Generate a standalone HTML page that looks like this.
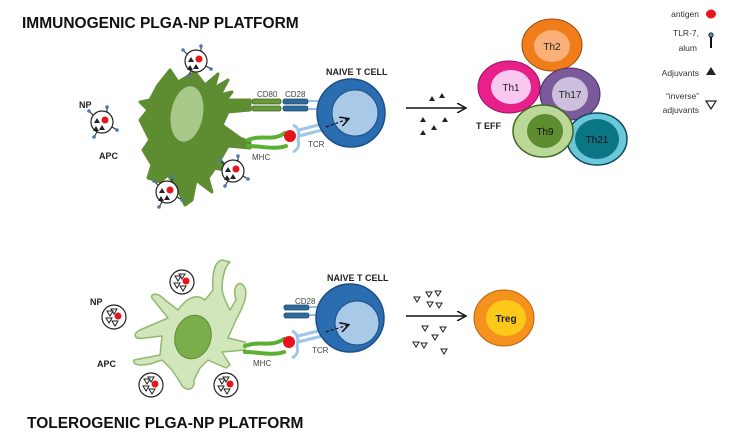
<!DOCTYPE html>
<html><head><meta charset="utf-8"><style>html,body{margin:0;padding:0;background:#fff}svg{display:block}text{font-family:"Liberation Sans",sans-serif}</style></head>
<body>
<svg width="733" height="444" viewBox="0 0 733 444" xmlns="http://www.w3.org/2000/svg">
<defs>
<g id="npT">
 <line x1="-9" y1="-7" x2="-13" y2="-11" stroke="#333" stroke-width="1.2"/><circle cx="-13" cy="-11" r="1.8" fill="#4a7ab0"/>
 <line x1="5" y1="-10" x2="5" y2="-15" stroke="#333" stroke-width="1.2"/><circle cx="5" cy="-15" r="1.8" fill="#4a7ab0"/>
 <line x1="10" y1="5" x2="15" y2="8" stroke="#333" stroke-width="1.2"/><circle cx="15" cy="8" r="1.8" fill="#4a7ab0"/>
 <line x1="-5" y1="10" x2="-8" y2="15" stroke="#333" stroke-width="1.2"/><circle cx="-8" cy="15" r="1.8" fill="#4a7ab0"/>
 <circle r="11" fill="#fff" stroke="#222" stroke-width="1.2"/>
 <circle cx="3" cy="-2" r="3.5" fill="#e8141c"/>
 <path d="M-5,-4 l3,5 h-6z M-6,4 l3,5 h-6z M0,3 l3,5 h-6z" fill="#222"/>
</g>
<g id="npI">
 <circle r="12" fill="#fff" stroke="#222" stroke-width="1.2"/>
 <circle cx="4" cy="-1" r="3.5" fill="#e8141c"/>
 <path d="M-7,-6 h6 l-3,5z M-8,1 h6 l-3,5z M-2,4 h6 l-3,5z M-3,-8 h6 l-3,5z" fill="#fff" stroke="#222" stroke-width="1"/>
</g>
<marker id="ah" markerWidth="10" markerHeight="10" refX="8" refY="5" orient="auto" markerUnits="userSpaceOnUse"><path d="M0,0 L9,5 L0,10" fill="none" stroke="#111" stroke-width="1.5"/></marker>
</defs>

<text x="22" y="28" font-size="15.5" font-weight="bold" fill="#111">IMMUNOGENIC PLGA-NP PLATFORM</text>

<path d="M170,70 L178,82 L195,72 L205,85 L218,74 L214,88 L228,80 L220,95 L232,92 L226,100 L250,100 L250,110 L228,112 L222,125 L240,138 L250,142 L250,148 L228,146 L220,160 L232,172 L215,168 L208,178 L212,192 L196,180 L192,200 L185,205 L178,190 L168,175 L160,182 L148,178 L152,165 L143,150 L150,140 L140,120 L148,110 L140,102 L150,100 L158,85 Z" fill="#5e8c31" stroke="#5e8c31" stroke-width="3" stroke-linejoin="round"/>
<ellipse cx="187" cy="114" rx="16" ry="28" fill="#a9c98a" transform="rotate(10 187 114)"/>
<use href="#npT" x="102" y="122"/>
<use href="#npT" x="196" y="61"/>
<use href="#npT" x="233" y="171"/>
<use href="#npT" x="167" y="192"/>
<text x="79" y="108" font-size="9" font-weight="bold" fill="#222">NP</text>
<text x="99" y="159" font-size="9" font-weight="bold" fill="#222">APC</text>
<rect x="252" y="99" width="29" height="5" rx="2" fill="#6a9a3a" stroke="#3d6420" stroke-width="0.8"/>
<rect x="252" y="106" width="29" height="5" rx="2" fill="#6a9a3a" stroke="#3d6420" stroke-width="0.8"/>
<rect x="283" y="99" width="25" height="5" rx="2" fill="#2e6a9a" stroke="#1c4a70" stroke-width="0.8"/>
<rect x="283" y="106" width="25" height="5" rx="2" fill="#2e6a9a" stroke="#1c4a70" stroke-width="0.8"/>
<line x1="308" y1="101" x2="320" y2="101" stroke="#7aa8d8" stroke-width="1.5"/>
<line x1="308" y1="109" x2="320" y2="109" stroke="#7aa8d8" stroke-width="1.5"/>
<text x="257" y="97" font-size="8" fill="#444">CD80</text>
<text x="285" y="97" font-size="8" fill="#444">CD28</text>
<path d="M248,140 C262,134 272,142 285,133" fill="none" stroke="#5ab030" stroke-width="4" stroke-linecap="round"/>
<path d="M248,146 C262,146 274,150 286,146" fill="none" stroke="#5ab030" stroke-width="4" stroke-linecap="round"/>
<text x="252" y="160" font-size="8" fill="#444">MHC</text>
<path d="M293,125 C298,127 300,132 298,140 C300,146 297,150 293,152" fill="none" stroke="#9cc6ea" stroke-width="3"/>
<line x1="299" y1="130" x2="322" y2="124" stroke="#9cc6ea" stroke-width="3"/>
<line x1="299" y1="136" x2="322" y2="130" stroke="#9cc6ea" stroke-width="3"/>
<text x="308" y="147" font-size="8" fill="#444">TCR</text>
<circle cx="290" cy="136" r="6" fill="#e8141c"/>
<circle cx="351" cy="113" r="34" fill="#2a6db0" stroke="#1d4f86" stroke-width="1.5"/>
<circle cx="355" cy="113" r="23" fill="#a9c9e9" stroke="#1d4f86" stroke-width="1"/>
<line x1="326" y1="127" x2="348" y2="119" stroke="#111" stroke-width="1.2" stroke-dasharray="3,2" marker-end="url(#ah)"/>
<text x="326" y="75" font-size="9" font-weight="bold" fill="#222">NAIVE T CELL</text>
<line x1="406" y1="108" x2="465" y2="108" stroke="#111" stroke-width="1.5" marker-end="url(#ah)"/>
<g fill="#222"><path d="M432,96 l3,5 h-6z M442,93 l3,5 h-6z M423,117 l3,5 h-6z M445,117 l3,5 h-6z M434,125 l3,5 h-6z M423,130 l3,5 h-6z"/></g>
<text x="476" y="129" font-size="9" font-weight="bold" fill="#222">T EFF</text>
<ellipse cx="552" cy="45" rx="30" ry="26" fill="#f07d1a" stroke="#9a4a10" stroke-width="1"/>
<ellipse cx="552" cy="46" rx="18" ry="16" fill="#fbb07a"/>
<text x="552" y="50" font-size="10" text-anchor="middle" fill="#222">Th2</text>
<ellipse cx="509" cy="87" rx="31" ry="26" fill="#e8208a" stroke="#9a1060" stroke-width="1"/>
<ellipse cx="511" cy="87" rx="20" ry="17" fill="#f8c8f0"/>
<text x="511" y="91" font-size="10" text-anchor="middle" fill="#222">Th1</text>
<ellipse cx="570" cy="94" rx="30" ry="26" fill="#7a5a9a" stroke="#4a3060" stroke-width="1"/>
<ellipse cx="570" cy="94" rx="18" ry="17" fill="#ccc0dc"/>
<text x="570" y="98" font-size="10" text-anchor="middle" fill="#222">Th17</text>
<ellipse cx="597" cy="139" rx="30" ry="26" fill="#6cc8d8" stroke="#0a4a60" stroke-width="1.5"/>
<ellipse cx="597" cy="139" rx="22" ry="20" fill="#0a7585"/>
<text x="597" y="143" font-size="10" text-anchor="middle" fill="#111">Th21</text>
<ellipse cx="543" cy="131" rx="30" ry="26" fill="#bcd898" stroke="#3f6a22" stroke-width="1.5"/>
<ellipse cx="545" cy="131" rx="18" ry="17" fill="#5e8c31"/>
<text x="545" y="135" font-size="10" text-anchor="middle" fill="#111">Th9</text>
<g font-size="8.5" fill="#333" text-anchor="end">
<text x="699" y="17">antigen</text>
<text x="699" y="36">TLR-7,</text><text x="697" y="51">alum</text>
<text x="699" y="76">Adjuvants</text>
<text x="699" y="99">“inverse”</text><text x="699" y="113">adjuvants</text>
</g>
<ellipse cx="711" cy="14" rx="5" ry="4.5" fill="#e8141c"/>
<line x1="711" y1="36" x2="711" y2="48" stroke="#111" stroke-width="2"/><circle cx="711" cy="35" r="2.2" fill="#5a8ac0" stroke="#111" stroke-width="0.8"/>
<path d="M711,67 l5,8 h-10z" fill="#222"/>
<path d="M706,101 h10 l-5,8z" fill="#fff" stroke="#222" stroke-width="1.2"/>

<path d="M222,260 C214,262 212,275 213,290 L205,300 C195,292 185,300 178,310 L165,300 C158,292 150,293 152,298 L168,318 L140,330 C132,334 134,340 145,338 L162,336 L160,355 L134,360 C132,365 140,366 150,364 L162,360 L172,370 L180,382 C184,392 195,392 194,380 L200,368 L208,360 L226,368 L230,365 L222,352 L245,350 L245,342 L228,338 L235,322 L240,312 C246,300 248,290 243,285 C238,280 232,288 236,300 L230,310 L225,300 L222,290 C222,275 226,265 230,262 Z" fill="#d2e6bc" stroke="#93b86c" stroke-width="1.5" stroke-linejoin="round"/>
<ellipse cx="193" cy="337" rx="18" ry="22" fill="#7aae4a" stroke="#5e8c31" stroke-width="1" transform="rotate(15 193 337)"/>
<use href="#npI" x="182" y="282"/>
<use href="#npI" x="114" y="317"/>
<use href="#npI" x="151" y="385"/>
<use href="#npI" x="226" y="385"/>
<text x="90" y="305" font-size="9" font-weight="bold" fill="#222">NP</text>
<text x="97" y="367" font-size="9" font-weight="bold" fill="#222">APC</text>
<rect x="284" y="305" width="25" height="5" rx="2" fill="#2e6a9a" stroke="#1c4a70" stroke-width="0.8"/>
<rect x="284" y="313" width="25" height="5" rx="2" fill="#2e6a9a" stroke="#1c4a70" stroke-width="0.8"/>
<line x1="309" y1="307" x2="320" y2="307" stroke="#7aa8d8" stroke-width="1.5"/>
<line x1="309" y1="315" x2="320" y2="315" stroke="#7aa8d8" stroke-width="1.5"/>
<text x="295" y="304" font-size="8" fill="#444">CD28</text>
<path d="M245,346 C260,340 270,348 284,339" fill="none" stroke="#5ab030" stroke-width="4" stroke-linecap="round"/>
<path d="M245,352 C260,352 272,356 284,352" fill="none" stroke="#5ab030" stroke-width="4" stroke-linecap="round"/>
<text x="253" y="366" font-size="8" fill="#444">MHC</text>
<path d="M292,331 C297,333 299,338 297,346 C299,352 296,356 292,358" fill="none" stroke="#9cc6ea" stroke-width="3"/>
<line x1="298" y1="336" x2="322" y2="330" stroke="#9cc6ea" stroke-width="3"/>
<line x1="298" y1="342" x2="322" y2="336" stroke="#9cc6ea" stroke-width="3"/>
<text x="312" y="353" font-size="8" fill="#444">TCR</text>
<circle cx="289" cy="342" r="6" fill="#e8141c"/>
<circle cx="350" cy="318" r="34" fill="#2a6db0" stroke="#1d4f86" stroke-width="1.5"/>
<circle cx="357" cy="323" r="22" fill="#a9c9e9" stroke="#1d4f86" stroke-width="1"/>
<line x1="326" y1="332" x2="348" y2="325" stroke="#111" stroke-width="1.2" stroke-dasharray="3,2" marker-end="url(#ah)"/>
<text x="327" y="281" font-size="9" font-weight="bold" fill="#222">NAIVE T CELL</text>
<line x1="406" y1="316" x2="465" y2="316" stroke="#111" stroke-width="1.5" marker-end="url(#ah)"/>
<g fill="#fff" stroke="#222" stroke-width="1"><path d="M426,292 h6 l-3,5z M427,302 h6 l-3,5z M436,303 h6 l-3,5z M435,291 h6 l-3,5z M422,326 h6 l-3,5z M440,327 h6 l-3,5z M432,335 h6 l-3,5z M413,342 h6 l-3,5z M421,343 h6 l-3,5z M441,349 h6 l-3,5z M414,297 h6 l-3,5z"/></g>
<ellipse cx="504" cy="318" rx="30" ry="28" fill="#f5921e" stroke="#c06010" stroke-width="1"/>
<ellipse cx="506" cy="318" rx="20" ry="18" fill="#fcc81a"/>
<text x="506" y="322" font-size="10" font-weight="bold" text-anchor="middle" fill="#222">Treg</text>

<text x="27" y="428" font-size="15.5" font-weight="bold" fill="#111">TOLEROGENIC PLGA-NP PLATFORM</text>
</svg>
</body></html>
